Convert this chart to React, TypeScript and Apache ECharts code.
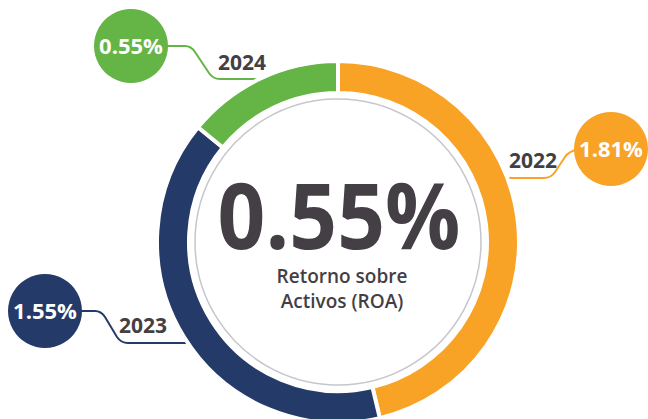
import React, { useEffect, useRef } from "react";
import * as echarts from "echarts";

// ---- data ----
const years = ["2022", "2023", "2024"];
const roaValues = [1.81, 1.55, 0.55];
const sliceColors = ["#F8A325", "#243A69", "#65B446"];
const centerCaption = ["Retorno sobre", "Activos (ROA)"];

// ---- layout (callout positions, not data) ----
const CX = 338;
const CY = 242;
const callouts = [
  {
    bubble: [611, 149],
    year: [533, 160],
    d: "M500,178 H544 Q551,178 555,172 L565,157 Q569,151 577,150",
  },
  {
    bubble: [45, 311],
    year: [143, 325],
    d: "M80,311 H95 Q101,311 105,317 L117,337 Q121,343 128,343 H198",
  },
  {
    bubble: [131, 46],
    year: [242, 62],
    d: "M166,46 H185 Q191,46 195,52 L209,73 Q213,79 220,79 H276",
  },
];

const FONT = "'Open Sans', 'Noto Sans', sans-serif";
const TEXT_DARK = "#433F45";

callouts.forEach((c, i) => {
  echarts.graphic.registerShape("callout" + i, echarts.graphic.extendPath(c.d, {}));
});

export default function App() {
  const ref = useRef<HTMLDivElement>(null);
  useEffect(() => {
    if (!ref.current) return;
    const chart = echarts.init(ref.current, null, { renderer: "svg" });
    const fmt = (v: number) => v.toFixed(2) + "%";
    const graphics: any[] = [];
    callouts.forEach((c, i) => {
      graphics.push({
        type: "callout" + i,
        z: 1,
        style: { fill: "none", stroke: sliceColors[i], lineWidth: 2 },
      });
      graphics.push({
        type: "circle",
        z: 10,
        shape: { cx: c.bubble[0], cy: c.bubble[1], r: 37 },
        style: { fill: sliceColors[i] },
      });
      graphics.push({
        type: "text",
        z: 11,
        x: c.bubble[0],
        y: c.bubble[1] - 1,
        style: {
          text: fmt(roaValues[i]),
          fill: "#ffffff",
          font: `bold 22px ${FONT}`,
          align: "center",
          verticalAlign: "middle",
        },
      });
      graphics.push({
        type: "text",
        z: 11,
        x: c.year[0],
        y: c.year[1],
        style: {
          text: years[i],
          fill: TEXT_DARK,
          font: `bold 21px ${FONT}`,
          align: "center",
          verticalAlign: "middle",
        },
      });
    });
    graphics.push({
      type: "circle",
      z: 1,
      shape: { cx: CX, cy: CY, r: 143 },
      style: { fill: "none", stroke: "#C5C6CE", lineWidth: 1.5 },
    });
    graphics.push({
      type: "text",
      z: 11,
      x: CX + 1,
      y: 214,
      scaleX: 0.92,
      scaleY: 1,
      style: {
        text: fmt(roaValues[roaValues.length - 1]),
        fill: TEXT_DARK,
        font: `bold 91px ${FONT}`,
        align: "center",
        verticalAlign: "middle",
      },
    });
    centerCaption.forEach((t, k) => {
      graphics.push({
        type: "text",
        z: 11,
        x: CX + 4,
        y: 276 + k * 25,
        style: {
          text: t,
          fill: TEXT_DARK,
          font: `600 19px ${FONT}`,
          align: "center",
          verticalAlign: "middle",
        },
      });
    });

    chart.setOption({
      animation: false,
      graphic: { elements: graphics },
      series: [
        {
          type: "pie",
          z: 2,
          center: [CX, CY],
          radius: [149, 181],
          startAngle: 90,
          clockwise: true,
          silent: true,
          label: { show: false },
          labelLine: { show: false },
          itemStyle: { borderColor: "#ffffff", borderWidth: 4 },
          data: years.map((y, i) => ({
            name: y,
            value: roaValues[i],
            itemStyle: { color: sliceColors[i] },
          })),
        },
      ],
    });
    return () => chart.dispose();
  }, []);
  return (
    <div
      ref={ref}
      style={{ position: "fixed", left: 0, top: 0, width: 648, height: 419, background: "#fff" }}
    />
  );
}
